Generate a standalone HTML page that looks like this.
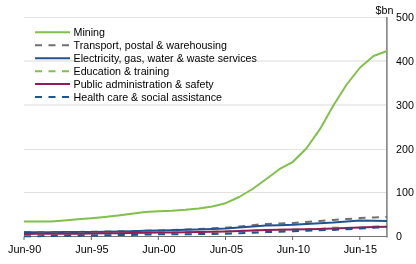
<!DOCTYPE html>
<html><head><meta charset="utf-8"><style>
html,body{margin:0;padding:0;background:#fff;width:416px;height:264px;overflow:hidden}
svg{display:block;will-change:transform}
text{font-family:"Liberation Sans",sans-serif;font-size:10.7px;fill:#000}
</style></head><body>
<svg width="416" height="264" viewBox="0 0 416 264">
<line x1="24" x2="386" y1="17.5" y2="17.5" stroke="#e2e2e2" stroke-width="1"/><line x1="24" x2="386" y1="61.0" y2="61.0" stroke="#d9d9d9" stroke-width="1"/><line x1="24" x2="386" y1="105.0" y2="105.0" stroke="#d9d9d9" stroke-width="1"/><line x1="24" x2="386" y1="149.5" y2="149.5" stroke="#e2e2e2" stroke-width="1"/><line x1="24" x2="386" y1="192.5" y2="192.5" stroke="#e2e2e2" stroke-width="1"/>
<line x1="35" x2="70" y1="32.20" y2="32.20" stroke="#80c04b" stroke-width="2"/><text x="73.5" y="36.30">Mining</text><line x1="35" x2="70" y1="45.20" y2="45.20" stroke="#707070" stroke-width="2" stroke-dasharray="7 6.5"/><text x="73.5" y="49.00">Transport, postal &amp; warehousing</text><line x1="35" x2="70" y1="58.30" y2="58.30" stroke="#1f5391" stroke-width="2"/><text x="73.5" y="62.00">Electricity, gas, water &amp; waste services</text><line x1="35" x2="70" y1="71.30" y2="71.30" stroke="#80c04b" stroke-width="2" stroke-dasharray="7 6.5"/><text x="73.5" y="74.50">Education &amp; training</text><line x1="35" x2="70" y1="84.00" y2="84.00" stroke="#951a5a" stroke-width="2"/><text x="73.5" y="87.70">Public administration &amp; safety</text><line x1="35" x2="70" y1="96.90" y2="96.90" stroke="#1d5592" stroke-width="2" stroke-dasharray="7 6.5"/><text x="73.5" y="101.00">Health care &amp; social assistance</text>
<line x1="24" x2="387.5" y1="236.5" y2="236.5" stroke="#747474" stroke-width="1"/>
<line x1="386.9" x2="386.9" y1="17" y2="237.5" stroke="#7a7a7a" stroke-width="1.5"/>
<line x1="24" x2="24" y1="236.5" y2="240" stroke="#666" stroke-width="1"/><line x1="91.3" x2="91.3" y1="236.5" y2="240" stroke="#666" stroke-width="1"/><line x1="158.3" x2="158.3" y1="236.5" y2="240" stroke="#666" stroke-width="1"/><line x1="225.5" x2="225.5" y1="236.5" y2="240" stroke="#666" stroke-width="1"/><line x1="292.6" x2="292.6" y1="236.5" y2="240" stroke="#666" stroke-width="1"/><line x1="359.8" x2="359.8" y1="236.5" y2="240" stroke="#666" stroke-width="1"/>
<path d="M24.00,221.50 L37.44,221.50 L50.89,221.40 L64.33,220.40 L77.78,219.30 L91.22,218.20 L104.67,216.90 L118.11,215.40 L131.56,213.80 L145.00,212.10 L158.44,211.30 L171.89,210.70 L185.33,209.80 L198.78,208.60 L212.22,206.50 L225.67,203.20 L239.11,197.00 L252.56,189.00 L266.00,179.30 L279.44,169.20 L292.89,161.80 L306.33,148.50 L319.78,129.40 L333.22,105.80 L346.67,84.50 L360.11,67.50 L373.56,56.00 L387.00,51.00" fill="none" stroke="#80c04b" stroke-width="2" stroke-linejoin="round"/>
<path d="M24.00,232.20 L37.44,232.17 L50.89,232.13 L64.33,232.10 L77.78,231.95 L91.22,231.80 L104.67,231.57 L118.11,231.33 L131.56,231.10 L145.00,230.70 L158.44,230.40 L171.89,230.10 L185.33,229.60 L198.78,229.10 L212.22,228.30 L225.67,227.70 L239.11,226.50 L252.56,225.20 L266.00,223.90 L279.44,223.45 L292.89,223.00 L306.33,221.95 L319.78,220.90 L333.22,219.90 L346.67,219.00 L360.11,218.10 L373.56,217.45 L387.00,216.80" fill="none" stroke="#707070" stroke-width="2" stroke-dasharray="7 6.4"/>
<path d="M24.00,232.20 L37.44,232.17 L50.89,232.13 L64.33,232.10 L77.78,232.00 L91.22,231.90 L104.67,231.67 L118.11,231.43 L131.56,231.20 L145.00,230.80 L158.44,230.50 L171.89,230.20 L185.33,229.80 L198.78,229.40 L212.22,228.90 L225.67,228.40 L239.11,227.50 L252.56,226.55 L266.00,225.60 L279.44,225.15 L292.89,224.70 L306.33,223.95 L319.78,223.20 L333.22,222.60 L346.67,221.60 L360.11,220.60 L373.56,220.75 L387.00,220.90" fill="none" stroke="#1f5391" stroke-width="2" stroke-linejoin="round"/>
<path d="M24.00,233.90 L37.44,233.87 L50.89,233.83 L64.33,233.80 L77.78,233.65 L91.22,233.50 L104.67,233.37 L118.11,233.23 L131.56,233.10 L145.00,232.80 L158.44,232.60 L171.89,232.40 L185.33,232.30 L198.78,232.10 L212.22,231.80 L225.67,231.40 L239.11,230.90 L252.56,230.50 L266.00,230.10 L279.44,229.80 L292.89,229.50 L306.33,229.20 L319.78,228.90 L333.22,227.60 L346.67,227.90 L360.11,227.40 L373.56,226.50 L387.00,225.80" fill="none" stroke="#80c04b" stroke-width="2" stroke-dasharray="7 6.4"/>
<path d="M24.00,233.90 L37.44,233.87 L50.89,233.83 L64.33,233.80 L77.78,233.65 L91.22,233.50 L104.67,233.37 L118.11,233.23 L131.56,233.10 L145.00,232.80 L158.44,232.60 L171.89,232.40 L185.33,232.30 L198.78,232.10 L212.22,231.80 L225.67,231.40 L239.11,230.90 L252.56,230.50 L266.00,230.10 L279.44,229.80 L292.89,229.50 L306.33,229.20 L319.78,228.90 L333.22,228.40 L346.67,227.90 L360.11,227.40 L373.56,227.10 L387.00,226.80" fill="none" stroke="#951a5a" stroke-width="2" stroke-linejoin="round"/>
<path d="M24.00,236.20 L37.44,236.13 L50.89,236.07 L64.33,236.00 L77.78,235.75 L91.22,235.50 L104.67,235.30 L118.11,235.10 L131.56,234.90 L145.00,234.50 L158.44,234.35 L171.89,234.20 L185.33,234.20 L198.78,234.10 L212.22,233.90 L225.67,233.70 L239.11,233.20 L252.56,232.65 L266.00,232.10 L279.44,231.65 L292.89,231.20 L306.33,230.75 L319.78,230.30 L333.22,229.90 L346.67,229.20 L360.11,228.50 L373.56,227.75 L387.00,227.00" fill="none" stroke="#1d5592" stroke-width="2" stroke-dasharray="7 6.4"/>
<g><text x="396" y="21.1">500</text><text x="396" y="64.9">400</text><text x="396" y="108.7">300</text><text x="396" y="152.6">200</text><text x="396" y="196.4">100</text><text x="396" y="240.2">0</text></g>
<g><text x="24.6" y="253.35" text-anchor="middle" style="font-size:10.9px">Jun-90</text><text x="91.9" y="253.35" text-anchor="middle" style="font-size:10.9px">Jun-95</text><text x="159.0" y="253.35" text-anchor="middle" style="font-size:10.9px">Jun-00</text><text x="226.3" y="253.35" text-anchor="middle" style="font-size:10.9px">Jun-05</text><text x="293.3" y="253.35" text-anchor="middle" style="font-size:10.9px">Jun-10</text><text x="360.3" y="253.35" text-anchor="middle" style="font-size:10.9px">Jun-15</text></g>
<text x="375.5" y="13.6">$bn</text>
</svg>
</body></html>
